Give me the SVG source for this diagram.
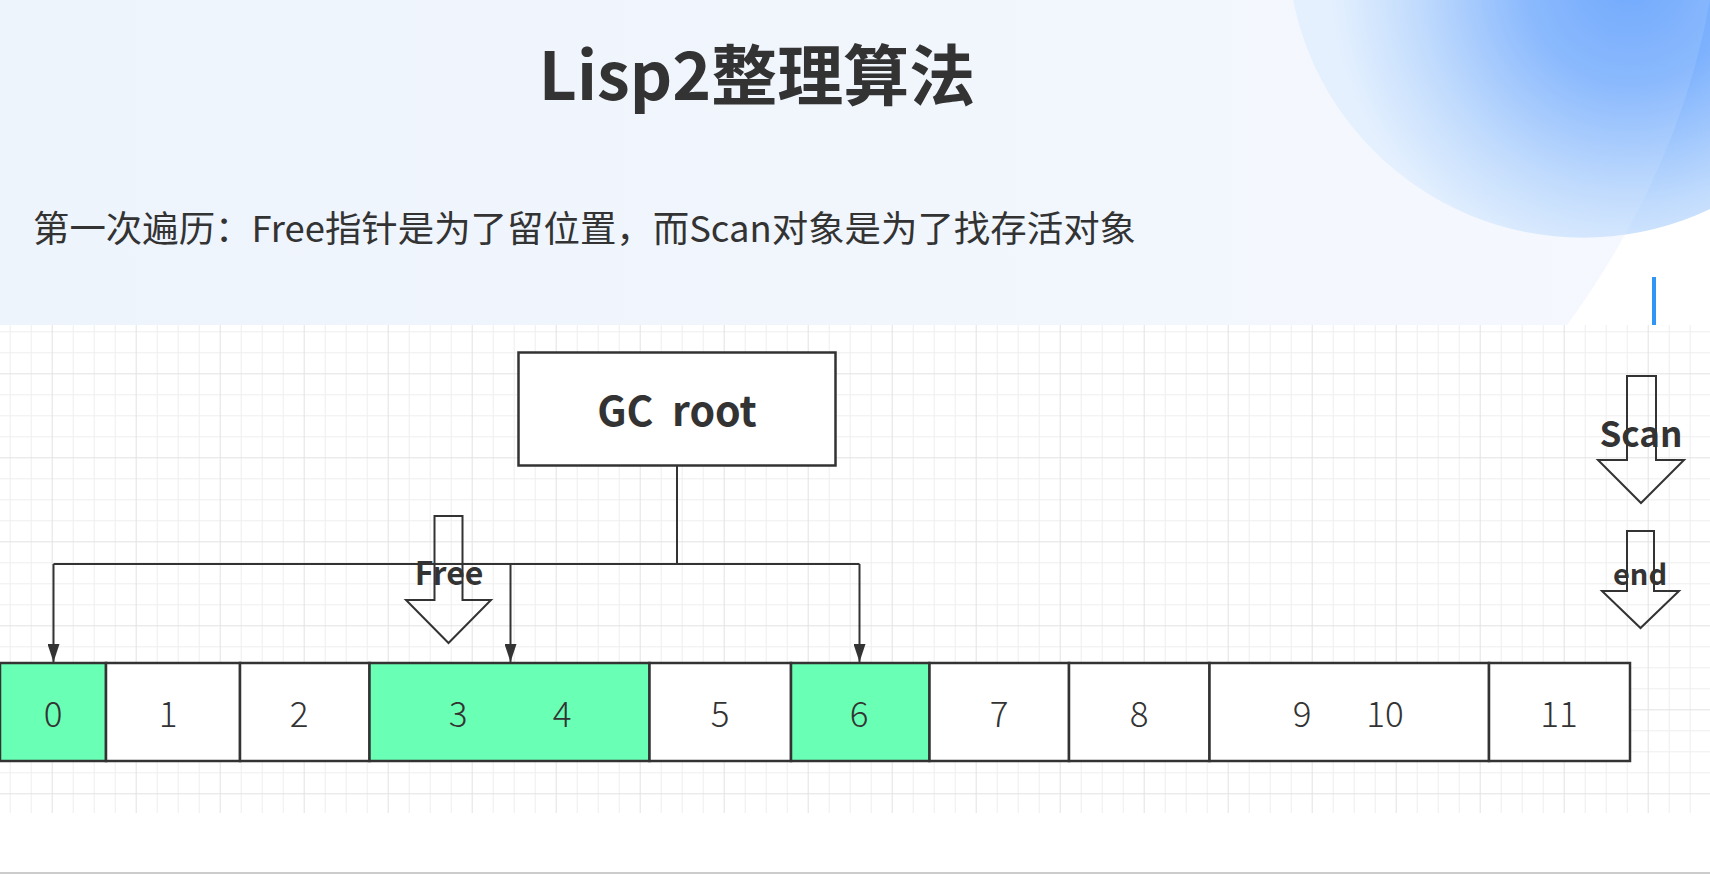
<svg xmlns="http://www.w3.org/2000/svg" width="1710" height="875" viewBox="0 0 1710 875">
  <defs>
    <linearGradient id="bandGrad" x1="0" y1="0" x2="1" y2="0">
      <stop offset="0" stop-color="#eef4fc"/>
      <stop offset="1" stop-color="#f4f8fe"/>
    </linearGradient>
    <radialGradient id="circleGrad" gradientUnits="userSpaceOnUse" cx="1630" cy="-20" r="300">
      <stop offset="0" stop-color="#62a0fd"/>
      <stop offset="0.35" stop-color="#7eb2fd"/>
      <stop offset="0.75" stop-color="#c0dbfd"/>
      <stop offset="1" stop-color="#e2effe"/>
    </radialGradient>
    <pattern id="grid" patternUnits="userSpaceOnUse" x="51.7" y="373.3" width="84" height="84">
      <path d="M21.5,0V84M42.5,0V84M63.5,0V84M0,21.5H84M0,42.5H84M0,63.5H84" stroke="#eeeeee" stroke-width="1" fill="none"/>
      <path d="M0.5,0V84M0,0.5H84" stroke="#e2e2e2" stroke-width="1" fill="none"/>
    </pattern>
    <marker id="arrow" markerUnits="userSpaceOnUse" markerWidth="18" markerHeight="12" refX="18" refY="6" orient="auto" viewBox="0 0 18 12">
      <path d="M0,0 L18,6 L0,12 Z" fill="#333333"/>
    </marker>
    <style>
      .cell { stroke: #333333; stroke-width: 2.5; }
      .live { fill: #69ffb4; }
      .dead { fill: #ffffff; }
      .num { font-family: "Noto Sans CJK SC", "Noto Sans", sans-serif; font-weight: 300; font-size: 35px; fill: #333333; text-anchor: middle; }
      .lbl { font-family: "Noto Sans CJK SC", "Noto Sans", sans-serif; font-weight: 700; fill: #333333; text-anchor: middle; }
      .block { fill: none; stroke: #333333; stroke-width: 2; stroke-linejoin: miter; }
      .conn { fill: none; stroke: #333333; stroke-width: 2; }
    </style>
  </defs>

  <!-- background -->
  <rect x="0" y="0" width="1710" height="875" fill="#ffffff"/>
  <rect x="0" y="0" width="1710" height="325" fill="url(#bandGrad)"/>
  <path d="M1710,0 Q1680,170 1567,325 L1710,325 Z" fill="#ffffff"/>
  <circle cx="1583" cy="-58" r="295.7" fill="url(#circleGrad)"/>
  <path d="M1250,0 L1710,0 Q1680,170 1567,325 L1250,325 Z" fill="#ffffff" opacity="0.1"/>
  <rect x="1652" y="277" width="4" height="48" fill="#2f96f5"/>
  <rect x="0" y="325" width="1710" height="488" fill="url(#grid)"/>
  <rect x="0" y="872" width="1710" height="2" fill="#cccccc"/>

  <!-- titles -->
  <text x="757" y="100" font-family="'Noto Sans CJK SC', 'Noto Sans', sans-serif" font-weight="700" font-size="66" fill="#333333" text-anchor="middle">Lisp2整理算法</text>
  <text x="33" y="242" font-family="'Noto Sans CJK SC', 'Noto Sans', sans-serif" font-size="36" fill="#333333" textLength="1103" lengthAdjust="spacingAndGlyphs">第一次遍历：Free指针是为了留位置，而Scan对象是为了找存活对象</text>

  <!-- GC root -->
  <g id="gc-root">
    <rect x="518.5" y="352.5" width="317" height="113" fill="#ffffff" stroke="#333333" stroke-width="2.5"/>
    <text class="lbl" x="677" y="426" font-size="41" xml:space="preserve">GC  root</text>
  </g>

  <!-- memory cells -->
  <g id="cell-0">
    <rect class="cell live" x="0" y="663" width="106" height="98"/>
    <text class="num" x="53" y="727">0</text>
  </g>
  <g id="cell-1">
    <rect class="cell dead" x="106" y="663" width="134" height="98"/>
    <text class="num" x="168" y="727">1</text>
  </g>
  <g id="cell-2">
    <rect class="cell dead" x="240" y="663" width="129.5" height="98"/>
    <text class="num" x="299" y="727">2</text>
  </g>
  <g id="cell-3-4">
    <rect class="cell live" x="369.5" y="663" width="280" height="98"/>
    <text class="num" x="458" y="727">3</text>
    <text class="num" x="562" y="727">4</text>
  </g>
  <g id="cell-5">
    <rect class="cell dead" x="649.5" y="663" width="141.5" height="98"/>
    <text class="num" x="720" y="727">5</text>
  </g>
  <g id="cell-6">
    <rect class="cell live" x="791" y="663" width="138.5" height="98"/>
    <text class="num" x="859" y="727">6</text>
  </g>
  <g id="cell-7">
    <rect class="cell dead" x="929.5" y="663" width="139.5" height="98"/>
    <text class="num" x="999" y="727">7</text>
  </g>
  <g id="cell-8">
    <rect class="cell dead" x="1069" y="663" width="140.5" height="98"/>
    <text class="num" x="1139" y="727">8</text>
  </g>
  <g id="cell-9-10">
    <rect class="cell dead" x="1209.5" y="663" width="279.5" height="98"/>
    <text class="num" x="1302" y="727">9</text>
    <text class="num" x="1385" y="727">10</text>
  </g>
  <g id="cell-11">
    <rect class="cell dead" x="1489" y="663" width="141" height="98"/>
    <text class="num" x="1559" y="727">11</text>
  </g>

  <!-- pointer block arrows -->
  <g id="free-pointer">
    <path class="block" d="M434.5,516 H462.5 V600 H491 L448.5,643 L406,600 H434.5 Z"/>
    <text class="lbl" x="449" y="585" font-size="32">Free</text>
  </g>
  <g id="scan-pointer">
    <path class="block" d="M1627,376 H1656 V460 H1684 L1641,503 L1598,460 H1627 Z"/>
    <text class="lbl" x="1641" y="447" font-size="35">Scan</text>
  </g>
  <g id="end-pointer">
    <path class="block" d="M1627,531 H1654 V591 H1679 L1640.5,628 L1602,591 H1627 Z"/>
    <text class="lbl" x="1640" y="585" font-size="29">end</text>
  </g>

  <!-- connectors -->
  <g id="connectors">
    <path class="conn" d="M677,466 V564"/>
    <path class="conn" d="M53.5,564 H859.5"/>
    <path class="conn" d="M53.5,564 V662" marker-end="url(#arrow)"/>
    <path class="conn" d="M510.5,564 V662" marker-end="url(#arrow)"/>
    <path class="conn" d="M859.5,564 V662" marker-end="url(#arrow)"/>
  </g>
</svg>
